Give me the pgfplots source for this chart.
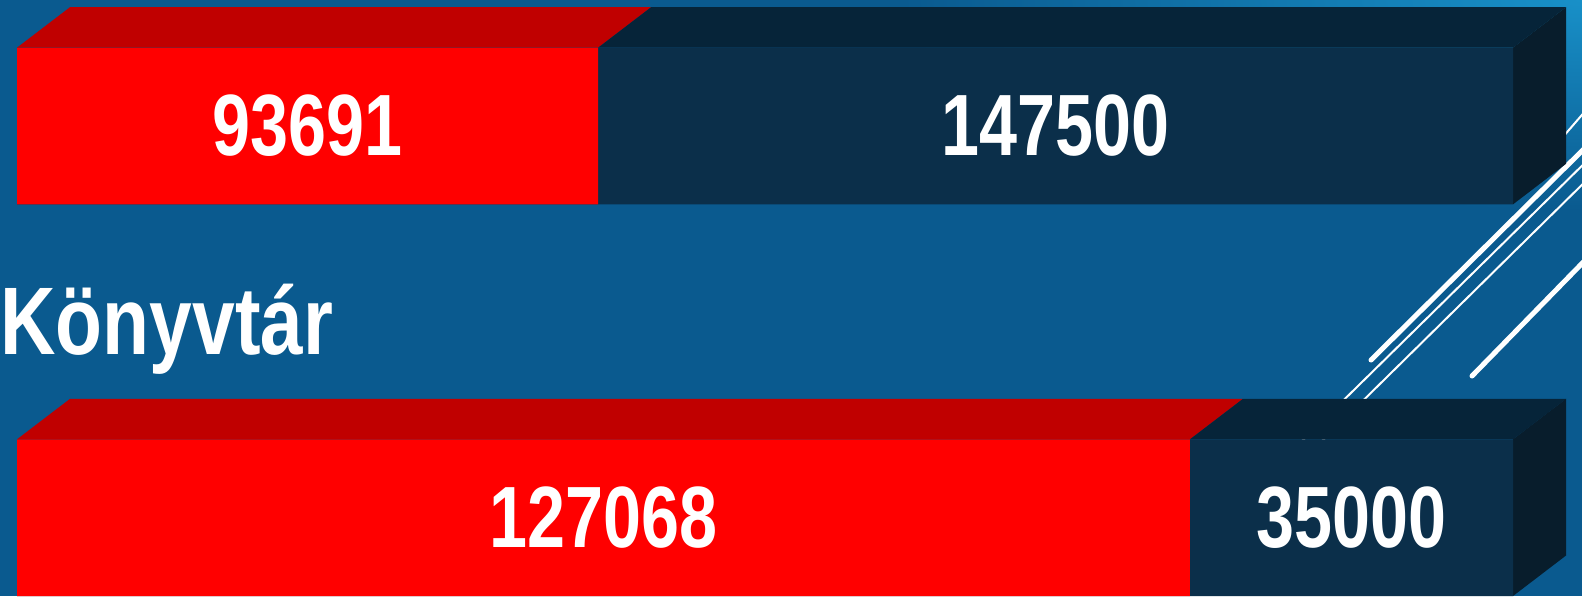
\documentclass[border=0pt]{standalone}
\usepackage{pgfplots}
\pgfplotsset{compat=1.18}
\usepackage{fontspec}
\setmainfont{Liberation Sans}
\newfontfamily\narrow[FakeStretch=0.80]{Liberation Sans}
\newfontfamily\narrowb[FakeStretch=0.785]{Liberation Sans}
\newcommand\numfont{\narrowb\bfseries\fontsize{43.5}{45}\selectfont}
\newcommand\labfont{\narrow\bfseries\fontsize{48}{50}\selectfont}
\definecolor{bg}{HTML}{0A5A8F}
\definecolor{bglight}{HTML}{1890C8}
\definecolor{redfront}{HTML}{FF0000}
\definecolor{redtop}{HTML}{C00000}
\definecolor{navyfront}{HTML}{0B2F4A}
\definecolor{navytop}{HTML}{062439}
\definecolor{navyside}{HTML}{081D2C}
% data
\def\myAa{93691}\def\myAb{147500}
\def\myBa{127068}\def\myBb{35000}
\edef\myfA{\fpeval{round(\myAa/(\myAa+\myAb),5)}}
\edef\myfB{\fpeval{round(\myBa/(\myBa+\myBb),5)}}
% 3d depth
\def\mydx{0.03543}
\edef\myD{\fpeval{1+\mydx}}
\edef\myfAd{\fpeval{\myfA+\mydx}}
\edef\myfBd{\fpeval{\myfB+\mydx}}
\edef\mycAa{\fpeval{round(\myfA/2,5)}}
\edef\mycAb{\fpeval{round((1+\myfA)/2,5)}}
\edef\mycBa{\fpeval{round(\myfB/2,5)}}
\edef\mycBb{\fpeval{round((1+\myfB)/2,5)}}
\begin{document}
\begin{tikzpicture}
\begin{scope}[x=0.5pt,y=0.5pt]
\useasboundingbox (0,0) rectangle (1582,596);
\fill[bg] (0,0) rectangle (1582,596);
\begin{scope}
\clip (0,0) rectangle (1582,596);
\shade[inner color=bglight, outer color=bg] (1582,596) ellipse [x radius=680, y radius=210];
\draw[white, line width=2.5pt, line cap=round] (1371,236) -- (1600,463);
\draw[white, line width=1pt] (1300,153) -- (1600,448);
\draw[white, line width=1pt] (1320,153) -- (1600,429);
\draw[white, line width=2.5pt, line cap=round] (1472,220) -- (1600,351);
\draw[white, line width=1pt] (1530,421) -- (1600,502);
\end{scope}
\end{scope}
\edef\myplots{%
\noexpand\addplot[fill=redtop, draw=none] coordinates {(0,1.2) (\mydx,1.3034) (\myfAd,1.3034) (\myfA,1.2) (0,1.2)};
\noexpand\addplot[fill=navytop, draw=none] coordinates {(\myfA,1.2) (\myfAd,1.3034) (\myD,1.3034) (1,1.2) (\myfA,1.2)};
\noexpand\addplot[fill=navyside, draw=none] coordinates {(1,1.2) (\myD,1.3034) (\myD,0.9034) (1,0.8) (1,1.2)};
\noexpand\addplot[fill=redtop, draw=none] coordinates {(0,0.2) (\mydx,0.3034) (\myfBd,0.3034) (\myfB,0.2) (0,0.2)};
\noexpand\addplot[fill=navytop, draw=none] coordinates {(\myfB,0.2) (\myfBd,0.3034) (\myD,0.3034) (1,0.2) (\myfB,0.2)};
\noexpand\addplot[fill=navyside, draw=none] coordinates {(1,0.2) (\myD,0.3034) (\myD,-0.0966) (1,-0.2) (1,0.2)};
\noexpand\addplot[xbar, bar width=0.4, bar shift=0pt, fill=navyfront, draw=none] coordinates {(1,1) (1,0)};
\noexpand\addplot[xbar, bar width=0.4, bar shift=0pt, fill=redfront, draw=none] coordinates {(\myfA,1) (\myfB,0)};
}
\begin{axis}[at={(0,0)}, anchor=south west, scale only axis,
  width=791pt, height=298pt, xmin=-0.011364, xmax=1.046123,
  ymin=-0.2, ymax=1.3217, axis lines=none, ticks=none]
\myplots
\node[white, inner sep=0pt, anchor=center, font=\numfont] at (axis cs:\mycAa,1) {93691};
\node[white, inner sep=0pt, anchor=center, font=\numfont] at (axis cs:\mycAb,1) {147500};
\node[white, inner sep=0pt, anchor=center, font=\numfont] at (axis cs:\mycBa,0) {127068};
\node[white, inner sep=0pt, anchor=center, font=\numfont] at (axis cs:\mycBb,0) {35000};
\node[white, inner sep=0pt, anchor=base west, font=\labfont] at (axis cs:-0.011364,0.4154) {Könyvtár};
\end{axis}
\end{tikzpicture}
\end{document}
